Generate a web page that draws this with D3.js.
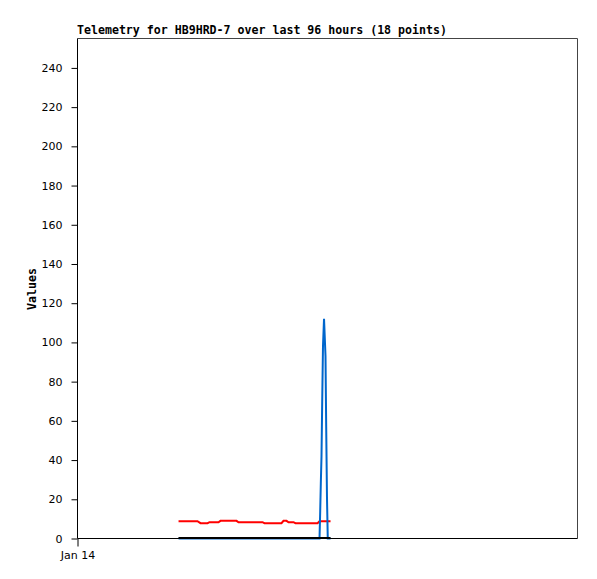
<!DOCTYPE html>
<html>
<head>
<meta charset="utf-8">
<script src="https://cdn.jsdelivr.net/npm/d3@7"></script>
<style>
  html, body { margin: 0; padding: 0; background: #fff; }
  svg { display: block; }
</style>
</head>
<body>
<svg id="chart" width="597" height="579"></svg>
<script>
// ---- data ----
const titleText = "Telemetry for HB9HRD-7 over last 96 hours (18 points)";
const yAxisLabel = "Values";
const xDomain = ["2024-01-14T00:00", "2024-01-18T00:00"];
const xTickLabels = ["Jan 14"];
const yTicks = [0, 20, 40, 60, 80, 100, 120, 140, 160, 180, 200, 220, 240];
const yMax = 255;

const times = [
  "2024-01-14T19:24", "2024-01-14T23:02", "2024-01-14T23:37", "2024-01-15T00:58",
  "2024-01-15T01:21", "2024-01-15T03:04", "2024-01-15T03:27", "2024-01-15T06:32",
  "2024-01-15T06:55", "2024-01-15T11:31", "2024-01-15T11:54", "2024-01-15T15:10",
  "2024-01-15T15:33", "2024-01-15T16:08", "2024-01-15T16:31", "2024-01-15T17:28",
  "2024-01-15T17:51", "2024-01-15T22:05", "2024-01-15T22:28", "2024-01-15T22:36",
  "2024-01-15T22:43", "2024-01-15T22:51", "2024-01-15T22:59", "2024-01-15T23:08",
  "2024-01-15T23:20", "2024-01-15T23:37", "2024-01-15T23:45", "2024-01-15T23:54",
  "2024-01-16T00:03", "2024-01-16T00:35"
];
const redValues = [
  8.8, 8.8, 7.8, 7.8, 8.3, 8.3, 9.0, 9.0, 8.3, 8.3, 7.8, 7.8, 9.0, 9.0, 8.3, 8.3,
  7.8, 7.8, 8.8, 8.8, 8.8, 8.8, 8.8, 8.8, 8.8, 8.8, 8.8, 8.8, 8.8, 8.8
];
const blueValues = [
  0, 0, 0, 0, 0, 0, 0, 0, 0, 0, 0, 0, 0, 0, 0, 0,
  0, 0, 0, 14, 28, 42, 70, 98, 112, 93, 57, 21, 0, 0
];
const blackValues = [
  0, 0, 0, 0, 0, 0, 0, 0, 0, 0, 0, 0, 0, 0, 0, 0,
  0, 0, 0, 0, 0, 0, 0, 0, 0, 0, 0, 0, 0, 0
];

// ---- drawing ----
const svg = d3.select("#chart");
const parse = d3.timeParse("%Y-%m-%dT%H:%M");
const mLeft = 77.5, mRight = 577.5, mTop = 38.5, mBottom = 538.5;

const x = d3.scaleTime().domain(xDomain.map(parse)).range([mLeft, mRight]);
const y = d3.scaleLinear().domain([0, yMax]).range([mBottom, mTop]);

const monoFont = "'DejaVu Sans Mono', monospace";
const sansFont = "'DejaVu Sans', sans-serif";

// frame (top & right, dark gray)
svg.append("path")
  .attr("d", `M${mLeft},${mTop}H${mRight}V${mBottom}`)
  .attr("fill", "none").attr("stroke", "#444").attr("stroke-width", 1);

// series
const series = [
  { values: redValues, color: "#ff0000", width: 2, dy: 0 },
  { values: blueValues, color: "#0066cc", width: 2, dy: 0 },
  { values: blackValues, color: "#000000", width: 2, dy: -0.5 }
];
const pts = times.map(parse);
series.forEach(s => {
  const line = d3.line()
    .x((d, i) => x(pts[i]))
    .y(d => y(d) + s.dy);
  svg.append("path")
    .datum(s.values)
    .attr("d", line)
    .attr("fill", "none")
    .attr("stroke", s.color)
    .attr("stroke-width", s.width)
    .attr("stroke-linejoin", "miter");
});

// y axis
const yAxis = d3.axisLeft(y)
  .tickValues(yTicks)
  .tickSize(6)
  .tickSizeOuter(0)
  .tickPadding(9);
const gy = svg.append("g").attr("transform", `translate(${mLeft},0)`).call(yAxis);
gy.select(".domain").remove();
gy.selectAll("text").attr("font-family", sansFont).attr("font-size", "11px").attr("fill", "#000");
gy.selectAll("line").attr("stroke", "#000");

// x axis
const xAxis = d3.axisBottom(x)
  .tickValues([parse(xDomain[0])])
  .tickFormat((d, i) => xTickLabels[i])
  .tickSize(8)
  .tickSizeOuter(0)
  .tickPadding(5);
const gx = svg.append("g").attr("transform", `translate(0,${mBottom})`).call(xAxis);
gx.select(".domain").remove();
gx.selectAll("text").attr("font-family", sansFont).attr("font-size", "11px").attr("fill", "#000");
gx.selectAll("line").attr("stroke", "#000");

// left & bottom axis lines (black)
svg.append("path")
  .attr("d", `M${mLeft},${mTop}V${mBottom}H${mRight}`)
  .attr("fill", "none").attr("stroke", "#000").attr("stroke-width", 1);

// title
svg.append("text")
  .attr("x", 77).attr("y", 34)
  .attr("font-family", monoFont).attr("font-weight", "bold")
  .attr("font-size", "11.6px").attr("fill", "#000")
  .text(titleText);

// y label
svg.append("text")
  .attr("transform", `translate(36,289) rotate(-90)`)
  .attr("text-anchor", "middle")
  .attr("font-family", monoFont).attr("font-weight", "bold")
  .attr("font-size", "11.6px").attr("fill", "#000")
  .text(yAxisLabel);
</script>
</body>
</html>
